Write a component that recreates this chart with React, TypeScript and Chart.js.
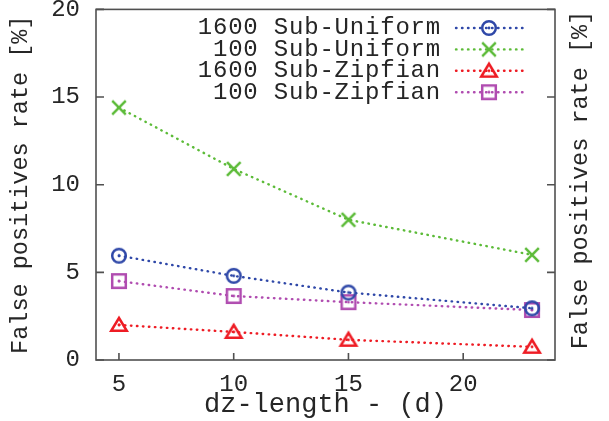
import React, { useEffect, useRef } from "react";
import { Chart, registerables } from "chart.js";
Chart.register(...registerables);

const xValues = [5, 10, 15, 23];
const seriesLabels = ["1600 Sub-Uniform", "100 Sub-Uniform", "1600 Sub-Zipfian", "100 Sub-Zipfian"];
const uniform1600 = [5.95, 4.8, 3.85, 2.95];
const uniform100 = [14.4, 10.9, 8.0, 6.0];
const zipfian1600 = [2.0, 1.6, 1.15, 0.75];
const zipfian100 = [4.5, 3.65, 3.3, 2.85];
const xTicks = [5, 10, 15, 20];
const yTicks = [0, 5, 10, 15, 20];
const xTitle = "dz-length - (d)";
const yTitle = "False positives rate [%]";

const MONO = "'Liberation Mono', 'DejaVu Sans Mono', monospace";
const TEXT = "#262626";
const FRAME = "#505050";
const DASH = [0.5, 5.5];

function makeMarker(kind: string, color: string): HTMLCanvasElement {
  const s = 24;
  const c = document.createElement("canvas");
  c.width = s;
  c.height = s;
  const g = c.getContext("2d")!;
  const m = s / 2;
  g.strokeStyle = color;
  g.fillStyle = color;
  g.lineWidth = 2.5;
  const dot = () => {
    g.beginPath();
    g.arc(m, m, 1.4, 0, Math.PI * 2);
    g.fill();
  };
  if (kind === "circle") {
    g.beginPath();
    g.arc(m, m, 6.8, 0, Math.PI * 2);
    g.stroke();
    dot();
  } else if (kind === "cross") {
    const h = 6.8;
    g.beginPath();
    g.moveTo(m - h, m - h);
    g.lineTo(m + h, m + h);
    g.moveTo(m + h, m - h);
    g.lineTo(m - h, m + h);
    g.stroke();
  } else if (kind === "triangle") {
    g.lineJoin = "miter";
    g.beginPath();
    g.moveTo(m, m - 7);
    g.lineTo(m + 7.8, m + 5.8);
    g.lineTo(m - 7.8, m + 5.8);
    g.closePath();
    g.stroke();
    dot();
  } else {
    g.beginPath();
    g.rect(m - 6.8, m - 6.8, 13.6, 13.6);
    g.stroke();
    dot();
  }
  return c;
}

export default function App() {
  const ref = useRef<HTMLCanvasElement | null>(null);
  useEffect(() => {
    const canvas = ref.current!;
    const colors = ["#2f48a8", "#5cbb38", "#ee1c24", "#b04cb0"];
    const kinds = ["circle", "cross", "triangle", "rect"];
    const values = [uniform1600, uniform100, zipfian1600, zipfian100];
    const datasets = values.map((vals, i) => ({
      label: seriesLabels[i],
      data: vals.map((v, j) => ({ x: xValues[j], y: v })),
      borderColor: colors[i],
      backgroundColor: colors[i],
      borderWidth: 2.4,
      borderDash: DASH,
      borderCapStyle: "round",
      pointStyle: makeMarker(kinds[i], colors[i]) as any,
      pointRadius: 7,
      pointHoverRadius: 7,
      fill: false,
      tension: 0,
    }));

    const framePlugin = {
      id: "frame",
      beforeDatasetsDraw(chart: any) {
        const { ctx, chartArea } = chart;
        const { left, right, top, bottom } = chartArea;
        ctx.save();
        ctx.strokeStyle = FRAME;
        ctx.lineWidth = 1.6;
        ctx.strokeRect(left, top, right - left, bottom - top);
        const ys = chart.scales.y;
        const xs = chart.scales.x;
        ctx.beginPath();
        yTicks.forEach((t) => {
          const py = ys.getPixelForValue(t);
          ctx.moveTo(left, py);
          ctx.lineTo(left + 8, py);
          ctx.moveTo(right, py);
          ctx.lineTo(right - 8, py);
        });
        xTicks.forEach((t) => {
          const px = xs.getPixelForValue(t);
          ctx.moveTo(px, bottom);
          ctx.lineTo(px, bottom - 7);
        });
        ctx.stroke();
        ctx.restore();
      },
      afterDraw(chart: any) {
        const { ctx } = chart;
        ctx.save();
        // right-hand (clipped neighbouring panel) axis title
        ctx.translate(581, 180);
        ctx.rotate(-Math.PI / 2);
        ctx.font = `23.5px ${MONO}`;
        ctx.fillStyle = TEXT;
        ctx.textAlign = "center";
        ctx.textBaseline = "middle";
        ctx.fillText(yTitle, 0, 0);
        ctx.restore();

        // legend
        ctx.save();
        ctx.font = `24px ${MONO}`;
        (ctx as any).letterSpacing = "0.8px";
        ctx.fillStyle = TEXT;
        ctx.textAlign = "right";
        ctx.textBaseline = "middle";
        chart.data.datasets.forEach((ds: any, i: number) => {
          const y = 28 + i * 21.4;
          ctx.fillText(ds.label, 441, y);
          ctx.save();
          ctx.strokeStyle = ds.borderColor;
          ctx.lineWidth = 2.4;
          ctx.lineCap = "round";
          ctx.setLineDash(DASH);
          ctx.beginPath();
          ctx.moveTo(456, y);
          ctx.lineTo(523, y);
          ctx.stroke();
          ctx.restore();
          const img = ds.pointStyle as HTMLCanvasElement;
          ctx.drawImage(img, 489 - img.width / 2, y - img.height / 2);
        });
        ctx.restore();
      },
    };

    const chart = new Chart(canvas, {
      type: "line",
      data: { datasets: datasets as any },
      options: {
        animation: false,
        responsive: false,
        devicePixelRatio: 1,
        layout: { padding: { left: 0, top: 9, right: 54, bottom: 0 } },
        plugins: { legend: { display: false }, tooltip: { enabled: false } },
        scales: {
          x: {
            type: "linear",
            min: 4,
            max: 24,
            grid: { display: false, drawTicks: false },
            border: { display: false },
            afterBuildTicks: (s: any) => {
              s.ticks = xTicks.map((v) => ({ value: v }));
            },
            afterFit: (s: any) => {
              s.height = 61;
              s.paddingLeft = 0;
              s.paddingRight = 0;
            },
            ticks: {
              padding: 10,
              maxRotation: 0,
              color: TEXT,
              font: { family: MONO, size: 24 },
              callback: (v: any) => String(v),
            },
            title: {
              display: true,
              text: xTitle,
              color: TEXT,
              font: { family: MONO, size: 27 },
              padding: { top: 0, bottom: 0 },
            },
          },
          y: {
            type: "linear",
            min: 0,
            max: 20,
            grid: { display: false, drawTicks: false },
            border: { display: false },
            afterBuildTicks: (s: any) => {
              s.ticks = yTicks.map((v) => ({ value: v }));
            },
            afterFit: (s: any) => {
              s.width = 96;
              s.paddingTop = 0;
              s.paddingBottom = 0;
            },
            ticks: {
              padding: 16,
              color: TEXT,
              font: { family: MONO, size: 24 },
              callback: (v: any) => String(v),
            },
            title: {
              display: true,
              text: yTitle,
              color: TEXT,
              font: { family: MONO, size: 23.5 },
              padding: { top: 7, bottom: 0 },
            },
          },
        },
      },
      plugins: [framePlugin],
    });
    return () => chart.destroy();
  }, []);

  return (
    <div style={{ position: "fixed", left: 0, top: 0, width: 609, height: 421, background: "#fff" }}>
      <canvas ref={ref} width={609} height={421} style={{ display: "block" }} />
    </div>
  );
}
